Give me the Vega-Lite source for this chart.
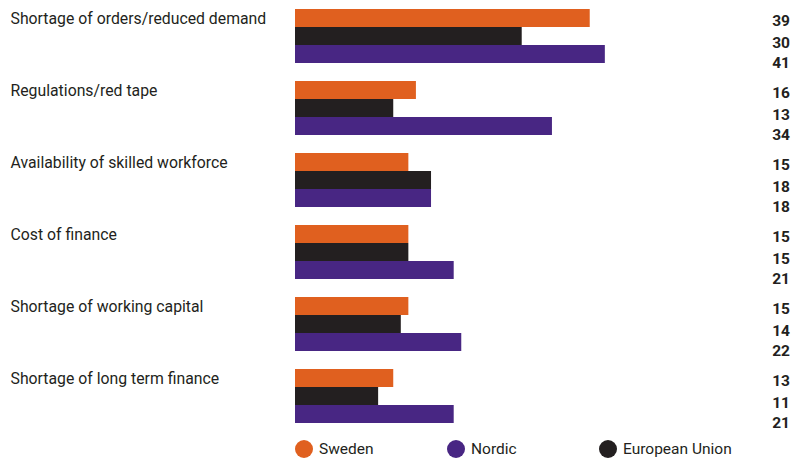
{
  "$schema": "https://vega.github.io/schema/vega-lite/v6.json",
  "autosize": "none",
  "width": 495,
  "height": 414,
  "padding": {"left": 295, "top": 9, "right": 15, "bottom": 36},
  "background": "white",
  "config": {
    "view": {"stroke": null},
    "font": "Roboto",
    "text": {"font": "Roboto"}
  },
  "data": {
    "values": [
      {"category": "Shortage of orders/reduced demand", "series": "Sweden", "value": 39},
      {"category": "Shortage of orders/reduced demand", "series": "European Union", "value": 30},
      {"category": "Shortage of orders/reduced demand", "series": "Nordic", "value": 41},
      {"category": "Regulations/red tape", "series": "Sweden", "value": 16},
      {"category": "Regulations/red tape", "series": "European Union", "value": 13},
      {"category": "Regulations/red tape", "series": "Nordic", "value": 34},
      {"category": "Availability of skilled workforce", "series": "Sweden", "value": 15},
      {"category": "Availability of skilled workforce", "series": "European Union", "value": 18},
      {"category": "Availability of skilled workforce", "series": "Nordic", "value": 18},
      {"category": "Cost of finance", "series": "Sweden", "value": 15},
      {"category": "Cost of finance", "series": "European Union", "value": 15},
      {"category": "Cost of finance", "series": "Nordic", "value": 21},
      {"category": "Shortage of working capital", "series": "Sweden", "value": 15},
      {"category": "Shortage of working capital", "series": "European Union", "value": 14},
      {"category": "Shortage of working capital", "series": "Nordic", "value": 22},
      {"category": "Shortage of long term finance", "series": "Sweden", "value": 13},
      {"category": "Shortage of long term finance", "series": "European Union", "value": 11},
      {"category": "Shortage of long term finance", "series": "Nordic", "value": 21}
    ]
  },
  "encoding": {
    "y": {
      "field": "category",
      "type": "nominal",
      "sort": null,
      "scale": {"paddingInner": 0.25, "paddingOuter": 0},
      "axis": {
        "title": null,
        "domain": false,
        "ticks": false,
        "labelAlign": "left",
        "labelPadding": 285,
        "labelOffset": -17,
        "labelFontSize": 15.8,
        "labelColor": "#231f20",
        "labelFont": "Roboto",
        "labelLimit": 280
      }
    },
    "yOffset": {
      "field": "series",
      "type": "nominal",
      "sort": ["Sweden", "European Union", "Nordic"],
      "scale": {"paddingInner": 0, "paddingOuter": 0}
    }
  },
  "layer": [
    {
      "mark": {"type": "bar"},
      "encoding": {
        "x": {
          "field": "value",
          "type": "quantitative",
          "scale": {"domain": [0, 65.5], "nice": false},
          "axis": null
        },
        "color": {
          "field": "series",
          "type": "nominal",
          "sort": ["Sweden", "Nordic", "European Union"],
          "scale": {
            "domain": ["Sweden", "Nordic", "European Union"],
            "range": ["#e0601f", "#482683", "#231f20"]
          },
          "legend": {
            "title": null,
            "orient": "bottom",
            "direction": "horizontal",
            "symbolType": "circle",
            "symbolSize": 324,
            "symbolStrokeWidth": 0,
            "symbolOpacity": 1,
            "labelFontSize": 15.5,
            "labelColor": "#231f20",
            "labelFont": "Roboto",
            "gridAlign": "all",
            "columnPadding": 19,
            "labelOffset": 6,
            "offset": 17
          }
        }
      }
    },
    {
      "transform": [{"filter": "datum.series === 'Sweden'"}],
      "mark": {"type": "text", "align": "right", "fontWeight": "bold", "fontSize": 15.5, "color": "#231f20", "dy": 3},
      "encoding": {"x": {"datum": 65.5}, "text": {"field": "value", "type": "quantitative"}}
    },
    {
      "transform": [{"filter": "datum.series === 'European Union'"}],
      "mark": {"type": "text", "align": "right", "fontWeight": "bold", "fontSize": 15.5, "color": "#231f20", "dy": 6.5},
      "encoding": {"x": {"datum": 65.5}, "text": {"field": "value", "type": "quantitative"}}
    },
    {
      "transform": [{"filter": "datum.series === 'Nordic'"}],
      "mark": {"type": "text", "align": "right", "fontWeight": "bold", "fontSize": 15.5, "color": "#231f20", "dy": 9},
      "encoding": {"x": {"datum": 65.5}, "text": {"field": "value", "type": "quantitative"}}
    }
  ]
}
